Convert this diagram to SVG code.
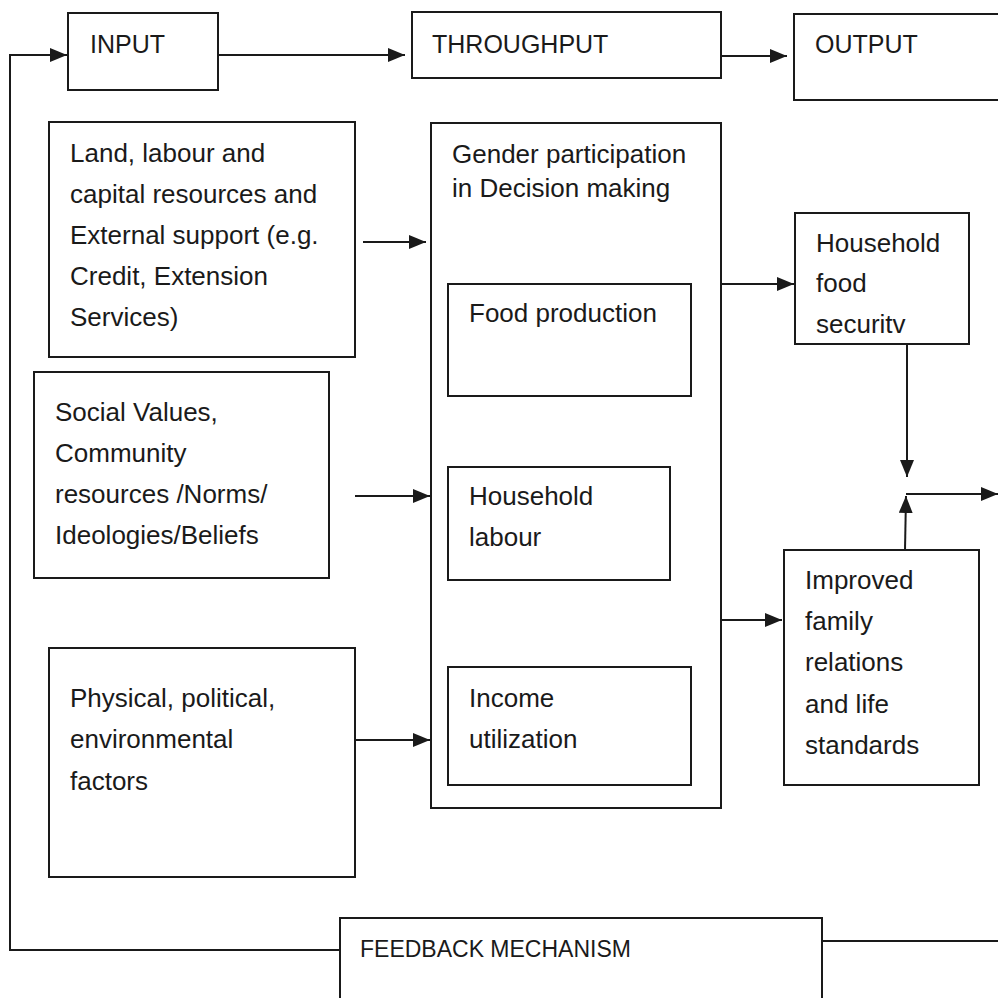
<svg xmlns="http://www.w3.org/2000/svg" width="998" height="998" viewBox="0 0 998 998">
<style>
.box{fill:none;stroke:#1a1a1a;stroke-width:2}
.t{font-family:"Liberation Sans",Arial,sans-serif;font-size:26px;fill:#1a1a1a}
.h{font-family:"Liberation Sans",Arial,sans-serif;font-size:25px;fill:#1a1a1a}
.f{font-family:"Liberation Sans",Arial,sans-serif;font-size:23px;fill:#1a1a1a}
.c{fill:none;stroke:#1a1a1a;stroke-width:2}
</style>
<defs>
<marker id="ah" viewBox="0 0 17 14" refX="17" refY="7" markerWidth="17" markerHeight="14" markerUnits="userSpaceOnUse" orient="auto">
<path d="M0,0 L17,7 L0,14 Z" fill="#1a1a1a"/>
</marker>
</defs>
<rect width="998" height="998" fill="#ffffff"/>

<g id="input"><rect class="box" x="68" y="13" width="150" height="77"/><text class="h" x="90" y="53">INPUT</text></g>
<g id="throughput"><rect class="box" x="412" y="12" width="309" height="66"/><text class="h" x="432" y="53">THROUGHPUT</text></g>
<g id="output"><rect class="box" x="794" y="14" width="210" height="86"/><text class="h" x="815" y="53">OUTPUT</text></g>

<g id="land"><rect class="box" x="49" y="122" width="306" height="235"/>
<text class="t" x="70" y="162">Land, labour and</text>
<text class="t" x="70" y="203">capital resources and</text>
<text class="t" x="70" y="244">External support (e.g.</text>
<text class="t" x="70" y="285">Credit, Extension</text>
<text class="t" x="70" y="326">Services)</text></g>

<g id="social"><rect class="box" x="34" y="372" width="295" height="206"/>
<text class="t" x="55" y="421">Social Values,</text>
<text class="t" x="55" y="462">Community</text>
<text class="t" x="55" y="503">resources /Norms/</text>
<text class="t" x="55" y="544">Ideologies/Beliefs</text></g>

<g id="physical"><rect class="box" x="49" y="648" width="306" height="229"/>
<text class="t" x="70" y="707">Physical, political,</text>
<text class="t" x="70" y="748">environmental</text>
<text class="t" x="70" y="790">factors</text></g>

<g id="gender"><rect class="box" x="431" y="123" width="290" height="685"/>
<text class="t" x="452" y="163">Gender participation</text>
<text class="t" x="452" y="197">in Decision making</text></g>

<g id="food-production"><rect class="box" x="448" y="284" width="243" height="112"/>
<text class="t" x="469" y="322">Food production</text></g>

<g id="household-labour"><rect class="box" x="448" y="467" width="222" height="113"/>
<text class="t" x="469" y="505">Household</text>
<text class="t" x="469" y="546">labour</text></g>

<g id="income"><rect class="box" x="448" y="667" width="243" height="118"/>
<text class="t" x="469" y="707">Income</text>
<text class="t" x="469" y="748">utilization</text></g>

<g id="food-security"><rect class="box" x="795" y="213" width="174" height="131"/>
<text class="t" x="816" y="252">Household</text>
<text class="t" x="816" y="292">food</text>
<text class="t" x="816" y="333">securitv</text></g>

<g id="family"><rect class="box" x="784" y="550" width="195" height="235"/>
<text class="t" x="805" y="589">Improved</text>
<text class="t" x="805" y="630">family</text>
<text class="t" x="805" y="671">relations</text>
<text class="t" x="805" y="713">and life</text>
<text class="t" x="805" y="754">standards</text></g>

<g id="feedback"><rect class="box" x="340" y="918" width="482" height="100"/>
<text class="f" x="360" y="957">FEEDBACK MECHANISM</text></g>

<g id="connectors">
<line class="c" x1="218" y1="55" x2="405" y2="55" marker-end="url(#ah)"/>
<line class="c" x1="721" y1="56" x2="787" y2="56" marker-end="url(#ah)"/>
<line class="c" x1="363" y1="242" x2="426" y2="242" marker-end="url(#ah)"/>
<line class="c" x1="355" y1="496" x2="430" y2="496" marker-end="url(#ah)"/>
<line class="c" x1="355" y1="740" x2="430" y2="740" marker-end="url(#ah)"/>
<line class="c" x1="721" y1="284" x2="794" y2="284" marker-end="url(#ah)"/>
<line class="c" x1="721" y1="620" x2="782" y2="620" marker-end="url(#ah)"/>
<line class="c" x1="907" y1="344" x2="907" y2="477" marker-end="url(#ah)"/>
<line class="c" x1="905" y1="550" x2="906" y2="496" marker-end="url(#ah)"/>
<line class="c" x1="906" y1="494" x2="998" y2="494" marker-end="url(#ah)"/>
<polyline class="c" points="340,950 10,950 10,55 67,55" marker-end="url(#ah)"/>
<line class="c" x1="822" y1="941" x2="998" y2="941"/>
</g>
</svg>
